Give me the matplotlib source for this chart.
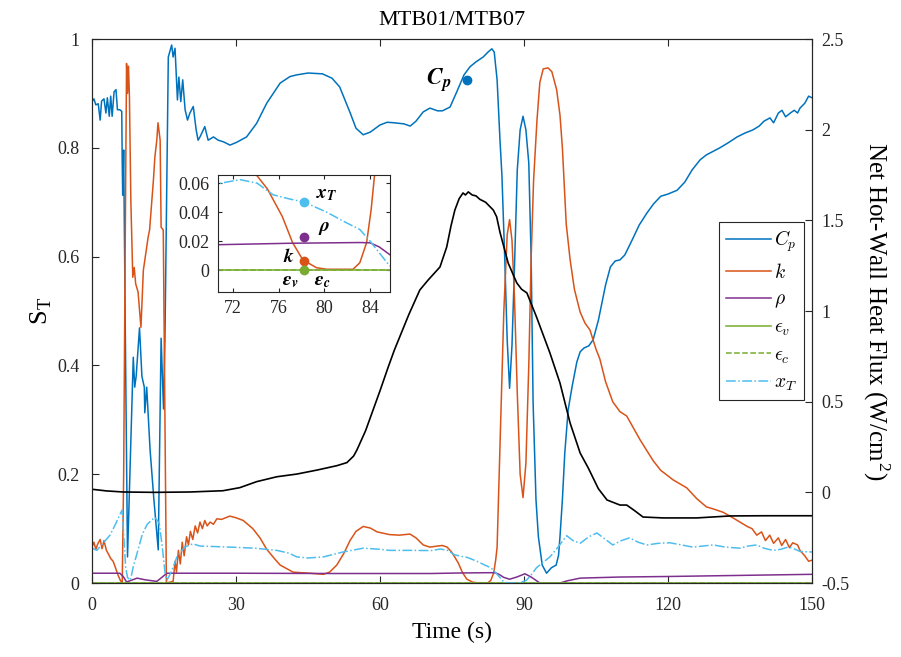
import matplotlib
matplotlib.use('Agg')
from matplotlib import pyplot as plt
from matplotlib.ticker import FuncFormatter

plt.rcParams['font.family'] = 'Liberation Serif'
plt.rcParams['mathtext.fontset'] = 'cm'
plt.rcParams['axes.unicode_minus'] = False

# ---- data ----
t_cp = [0, 0.4, 0.8, 1.3, 1.7, 2.0, 2.5, 2.9, 3.2, 3.6, 3.9, 4.2, 4.6, 5.0, 5.3, 5.8, 6.2, 6.3, 6.4, 6.6,
        6.9, 7.4, 8.6, 8.9, 9.2, 9.9, 10.4, 10.9, 11.0, 11.4, 12.1, 12.9, 13.8, 14.4, 14.9, 15.2, 15.6,
        15.9, 16.6, 16.9, 17.3, 17.8, 18.1, 18.5, 18.9, 19.4, 19.9, 20.4, 21.1, 21.7, 22.1, 22.5, 23.5,
        24.2, 25.3, 26.3, 27.4, 28.75, 30.1, 32.2, 34.3, 36.4, 39.2, 41.25, 42.6, 45, 48, 50, 51.6, 52.7,
        53.8, 55, 56.5, 58, 60, 61.5, 63, 65, 66.3, 67.5, 69, 70.4, 72, 73, 74.6, 76, 77.5, 78.75, 80,
        81.5, 82.5, 83.3, 83.8, 84.4, 85, 85.4, 86, 86.5, 87, 87.5, 88, 88.6, 89.2, 89.8, 90.4, 91, 91.5,
        91.9, 92.5, 93, 93.8, 94.7, 95.7, 96.7, 97.2, 97.5, 98, 98.5, 99.2, 100, 101, 101.7, 102.5, 103.5,
        104.4, 105.5, 107, 108, 109, 110, 111, 112.5, 114, 115.6, 117, 118.5, 120, 121.9, 123.5, 125,
        126.7, 128, 130.8, 132.5, 134.4, 136, 137.7, 139, 140, 141.25, 142, 143, 143.75, 144.5, 145.5,
        146.3, 147, 147.5, 148.5, 149.3, 150]
cp = [0.885, 0.89, 0.879, 0.881, 0.851, 0.886, 0.89, 0.864, 0.892, 0.858, 0.895, 0.858, 0.903, 0.907,
      0.87, 0.87, 0.867, 0.772, 0.713, 0.796, 0.5, 0.048, 0.415, 0.36, 0.38, 0.469, 0.38, 0.36, 0.313,
      0.36, 0.245, 0.153, 0.061, 0.45, 0.32, 0.45, 0.75, 0.967, 0.989, 0.967, 0.983, 0.888, 0.93, 0.885,
      0.925, 0.87, 0.851, 0.864, 0.876, 0.833, 0.814, 0.82, 0.839, 0.814, 0.82, 0.814, 0.811, 0.805,
      0.81, 0.82, 0.845, 0.882, 0.919, 0.931, 0.934, 0.9375, 0.936, 0.928, 0.912, 0.888, 0.864, 0.836,
      0.824, 0.829, 0.842, 0.847, 0.846, 0.844, 0.84, 0.849, 0.866, 0.873, 0.868, 0.868, 0.875, 0.903,
      0.934, 0.949, 0.958, 0.967, 0.976, 0.982, 0.976, 0.925, 0.814, 0.75, 0.594, 0.447, 0.358, 0.437,
      0.575, 0.759, 0.833, 0.858, 0.833, 0.772, 0.594, 0.331, 0.153, 0.085, 0.033, 0.018, 0.028, 0.033,
      0.051, 0.085, 0.153, 0.239, 0.318, 0.36, 0.406, 0.425, 0.432, 0.436, 0.447, 0.483, 0.548, 0.581,
      0.592, 0.594, 0.603, 0.63, 0.658, 0.68, 0.697, 0.711, 0.715, 0.722, 0.737, 0.759, 0.778, 0.787,
      0.8, 0.809, 0.82, 0.827, 0.833, 0.84, 0.849, 0.855, 0.846, 0.864, 0.869, 0.857, 0.864, 0.869,
      0.864, 0.873, 0.882, 0.895, 0.892]

t_k = [0, 0.4, 0.8, 1.2, 1.7, 2.1, 2.5, 3.0, 3.5, 3.9, 4.4, 4.9, 5.4, 5.9, 6.3, 6.6, 6.9, 7.2, 7.4, 7.6,
       7.8, 8.1, 8.5, 8.8, 9.1, 9.6, 10.2, 10.7, 11.7, 12.0, 12.8, 13.1, 13.5, 13.75, 14.2, 14.4, 14.85,
       15.5, 16.9, 17.3, 17.6, 18.0, 18.4, 18.8, 19.2, 19.7, 20.1, 20.5, 21.0, 21.5, 22.0, 22.5, 23.0,
       23.5, 24.0, 24.6, 25.3, 26.0, 27.0, 28.7, 30.0, 31.5, 33.5, 35, 36.4, 38, 39.2, 41.9, 45.4, 48.2,
       49.5, 51, 52.5, 53.75, 55, 56.5, 58, 59.4, 62, 64, 66.25, 67.5, 69, 70.4, 72, 73, 74, 75, 76.3,
       77.2, 78.1, 79.3, 80.2, 82.5, 83.1, 83.7, 84.1, 84.4, 85, 85.8, 86.5, 87, 87.5, 88, 88.6, 89.2,
       89.8, 90.4, 91, 91.5, 92, 92.7, 93.3, 94, 95, 95.8, 96.8, 97.5, 98, 98.8, 99.6, 100.5, 101.7,
       102.7, 103.75, 105, 105.8, 107, 108.5, 110, 111.4, 112.8, 114.2, 116.9, 118.5, 120, 121, 123.9,
       126, 128, 129.5, 131.5, 133.5, 135, 136.5, 137.5, 138.5, 139.5, 140.3, 141.2, 142, 143, 143.7,
       144.5, 145.3, 146, 147, 147.5, 148.5, 149.3, 150]
k = [0.066, 0.075, 0.062, 0.072, 0.08, 0.063, 0.078, 0.06, 0.052, 0.045, 0.04, 0.028, 0.015, 0.005, 0.0,
     0.2, 0.6, 0.955, 0.9, 0.95, 0.894, 0.7, 0.562, 0.58, 0.55, 0.535, 0.47, 0.575, 0.636, 0.649, 0.741,
     0.783, 0.814, 0.846, 0.814, 0.654, 0.649, 0.0, 0.003, 0.04, 0.02, 0.06, 0.035, 0.075, 0.05, 0.085,
     0.07, 0.095, 0.08, 0.105, 0.092, 0.112, 0.1, 0.115, 0.105, 0.112, 0.108, 0.118, 0.117, 0.123, 0.12,
     0.115, 0.1, 0.083, 0.062, 0.045, 0.033, 0.02, 0.018, 0.016, 0.02, 0.033, 0.055, 0.078, 0.095,
     0.104, 0.101, 0.094, 0.089, 0.088, 0.09, 0.083, 0.07, 0.066, 0.068, 0.069, 0.066, 0.056, 0.037,
     0.019, 0.007, 0.0016, 0.0005, 0.0005, 0.005, 0.019, 0.042, 0.066, 0.25, 0.5, 0.64, 0.668, 0.63,
     0.53, 0.35, 0.2, 0.157, 0.22, 0.4, 0.6, 0.74, 0.85, 0.92, 0.945, 0.947, 0.94, 0.907, 0.86, 0.8,
     0.66, 0.595, 0.54, 0.498, 0.478, 0.465, 0.43, 0.412, 0.37, 0.333, 0.315, 0.307, 0.285, 0.263,
     0.225, 0.207, 0.197, 0.19, 0.175, 0.155, 0.14, 0.136, 0.13, 0.12, 0.112, 0.104, 0.1, 0.088, 0.094,
     0.078, 0.088, 0.073, 0.083, 0.069, 0.08, 0.065, 0.074, 0.07, 0.06, 0.05, 0.04, 0.042]

t_rho = [0, 5.8, 6.5, 7.2, 8.2, 9.4, 11, 13.5, 14.5, 15.6, 30, 50, 70.66, 77, 83.1, 84, 84.8, 85.75, 87,
         88.5, 90.2, 91.5, 93.3, 97.5, 99, 101.7, 110, 120, 135, 150]
rho = [0.018, 0.018, 0.012, 0.002, 0.005, 0.009, 0.006, 0.003, 0.01, 0.018, 0.018, 0.0175, 0.0175,
       0.0185, 0.019, 0.0188, 0.016, 0.0105, 0.007, 0.011, 0.017, 0.011, 0.0, 0.0, 0.004, 0.009, 0.011,
       0.012, 0.014, 0.016]

t_eps = [0, 150]
eps_v = [0, 0]
eps_c = [0, 0]

t_xt = [0, 1, 2.2, 3.75, 5, 6.25, 6.6, 7.0, 7.4, 8.0, 8.6, 9.4, 10.5, 11.5, 13.1, 14, 14.6, 15.2, 15.6,
        16.5, 17.7, 19.3, 21, 22.5, 28.75, 34, 38.5, 41, 42.7, 45, 48.2, 50, 52.3, 56.5, 60, 62, 66,
        70.66, 72.6, 74.1, 75.5, 77, 78.2, 80.2, 81.6, 83.1, 83.9, 84.8, 85.7, 86.5, 89, 90.5, 91.5,
        92.6, 94, 95.4, 97, 98.9, 100.2, 101.7, 103.5, 105.2, 107, 108.5, 110.3, 112, 113.8, 115.6, 118,
        120.4, 122.8, 125.2, 127.3, 129.4, 132, 135, 136.7, 138.5, 140, 141.9, 143.5, 145, 146, 147.5, 150]
xt = [0.064, 0.06, 0.072, 0.088, 0.11, 0.134, 0.09, 0.03, 0.01, 0.005, 0.03, 0.055, 0.09, 0.108, 0.121,
      0.11, 0.07, 0.02, 0.005, 0.02, 0.048, 0.066, 0.072, 0.068, 0.066, 0.064, 0.06, 0.055, 0.048,
      0.046, 0.048, 0.052, 0.057, 0.064, 0.062, 0.06, 0.06, 0.0597, 0.0625, 0.06, 0.052, 0.049, 0.047,
      0.04, 0.034, 0.028, 0.021, 0.012, 0.003, 0.0, 0.0, 0.005, 0.015, 0.028, 0.038, 0.048, 0.065, 0.087,
      0.078, 0.073, 0.085, 0.092, 0.08, 0.07, 0.078, 0.083, 0.075, 0.07, 0.073, 0.074, 0.07, 0.066,
      0.068, 0.07, 0.066, 0.064, 0.068, 0.07, 0.064, 0.06, 0.062, 0.066, 0.064, 0.058, 0.057]

t_flux = [0, 3, 6.5, 13, 20.4, 27.3, 30.8, 34.3, 38.5, 42.7, 46.9, 51, 53.1, 54.5, 55.2, 57, 60, 61.7, 63,
          66, 68.3, 70, 72.5, 73.9, 74.8, 75.6, 76.5, 77.3, 77.8, 78.4, 79.2, 80, 80.8, 82, 83.6, 84.3,
          85, 86.7, 88.5, 89.5, 90.6, 92.6, 95.4, 97.5, 99.6, 101.7, 103.4, 105.5, 107.3, 110, 111.4, 113,
          114.8, 119, 126, 133, 140, 150]
flux = [0.017, 0.008, 0.002, 0.0, 0.002, 0.009, 0.026, 0.059, 0.086, 0.101, 0.123, 0.147, 0.164, 0.2,
        0.234, 0.34, 0.56, 0.69, 0.785, 0.98, 1.116, 1.17, 1.243, 1.353, 1.47, 1.557, 1.62, 1.651, 1.64,
        1.657, 1.64, 1.635, 1.616, 1.6, 1.557, 1.52, 1.434, 1.265, 1.155, 1.12, 1.1, 0.968, 0.769, 0.603,
        0.383, 0.217, 0.134, 0.02, -0.042, -0.07, -0.07, -0.1, -0.136, -0.141, -0.141, -0.13, -0.129,
        -0.129]

x_ticks = [0, 30, 60, 90, 120, 150]
st_ticks = [0, 0.2, 0.4, 0.6, 0.8, 1]
flux_ticks = [-0.5, 0, 0.5, 1, 1.5, 2, 2.5]
inset_xticks = [72, 76, 80, 84]
inset_yticks = [0, 0.02, 0.04, 0.06]
mark_t = 78.2

c_cp, c_k, c_rho, c_eps, c_xt = '#0072BD', '#D95319', '#7E2F8E', '#77AC30', '#4DBEEE'
fmt = FuncFormatter(lambda v, p: '%g' % v)
axcol = '#262626'

fig = plt.figure(figsize=(9.01, 6.57), dpi=100)
ax = fig.add_axes([0.1021, 0.1126, 0.7991, 0.828])
ax2 = ax.twinx()


def draw_series(a):
    lines = []
    lines += a.plot(t_cp, cp, color=c_cp, lw=1.1, label='$C_p$')
    lines += a.plot(t_k, k, color=c_k, lw=1.1, label='$k$')
    lines += a.plot(t_rho, rho, color=c_rho, lw=1.1, label=r'$\rho$')
    lines += a.plot(t_eps, eps_v, color=c_eps, lw=1.1, label=r'$\epsilon_v$')
    lines += a.plot(t_eps, eps_c, color=c_eps, lw=1.1, ls='--', label=r'$\epsilon_c$')
    lines += a.plot(t_xt, xt, color=c_xt, lw=1.1, ls='-.', label='$x_T$')
    return lines


handles = draw_series(ax)
ax2.plot(t_flux, flux, color='k', lw=1.2)

ax.set_xlim(0, 150)
ax.set_ylim(0, 1)
ax2.set_ylim(-0.5, 2.5)
ax.set_xticks(x_ticks)
ax.set_yticks(st_ticks)
ax2.set_yticks(flux_ticks)
ax.xaxis.set_major_formatter(fmt)
ax.yaxis.set_major_formatter(fmt)
ax2.yaxis.set_major_formatter(fmt)
ax.tick_params(direction='in', top=True, right=False, labelsize=13, colors=axcol, length=5)
ax.tick_params(axis='x', pad=10)
ax.tick_params(axis='y', pad=9)
ax2.tick_params(direction='in', labelsize=13, colors=axcol, length=5, pad=7)
for a in (ax, ax2):
    for s in a.spines.values():
        s.set_color(axcol)
        s.set_linewidth(0.8)

ax.set_title('MTB01/MTB07', fontsize=16, pad=10)
ax.set_xlabel('Time (s)', fontsize=17, labelpad=6)
ax.set_ylabel(r'S$_\mathregular{T}$', fontsize=19, labelpad=2)
ax2.set_ylabel(r'Net Hot-Wall Heat Flux (W/cm$^\mathregular{2}$)', fontsize=18, rotation=270,
               labelpad=30)

# marker on C_p
ax.plot([mark_t], [0.925], 'o', color=c_cp, ms=6)
ax.text(75, 0.925, r'$\mathbfit{C_p}$', fontsize=17, ha='right', va='center',
        math_fontfamily='stix')

leg = ax2.legend(handles, [h.get_label() for h in handles], loc='upper left',
                 bbox_to_anchor=(719 / 901, 1 - 222 / 657), bbox_transform=fig.transFigure,
                 fontsize=14, fancybox=False, framealpha=1, edgecolor=axcol,
                 handlelength=2.3, handletextpad=0.2, labelspacing=0.45, borderpad=0.35,
                 borderaxespad=0)
leg.get_frame().set_linewidth(0.8)

# inset
ins = fig.add_axes([218 / 901, 1 - 291.7 / 657, 172 / 901, 116.7 / 657])
draw_series(ins)
ins.set_xlim(70.66, 85.75)
ins.set_ylim(-0.015, 0.0657)
ins.set_xticks(inset_xticks)
ins.set_yticks(inset_yticks)
ins.xaxis.set_major_formatter(fmt)
ins.yaxis.set_major_formatter(fmt)
ins.tick_params(direction='in', top=True, right=True, labelsize=13, colors=axcol, length=3, pad=6)
for s in ins.spines.values():
    s.set_color(axcol)
    s.set_linewidth(0.8)

ins.plot([mark_t], [0.047], 'o', color=c_xt, ms=6)
ins.plot([mark_t], [0.023], 'o', color=c_rho, ms=6)
ins.plot([mark_t], [0.006], 'o', color=c_k, ms=6)
ins.plot([mark_t], [0.0], 'o', color=c_eps, ms=6)
bold = dict(fontsize=14, va='center', math_fontfamily='stix')
ins.text(79.3, 0.052, r'$\mathbfit{x_T}$', ha='left', **bold)
ins.text(79.4, 0.0286, r'$\mathbfit{\rho}$', ha='left', **bold)
ins.text(77.4, 0.0091, r'$\mathbfit{k}$', ha='right', **bold)
ins.text(77.05, -0.008, r'$\mathbfit{\epsilon_v}$', ha='center', **bold)
ins.text(79.8, -0.008, r'$\mathbfit{\epsilon_c}$', ha='center', **bold)

fig.savefig('out.png', dpi=100)
